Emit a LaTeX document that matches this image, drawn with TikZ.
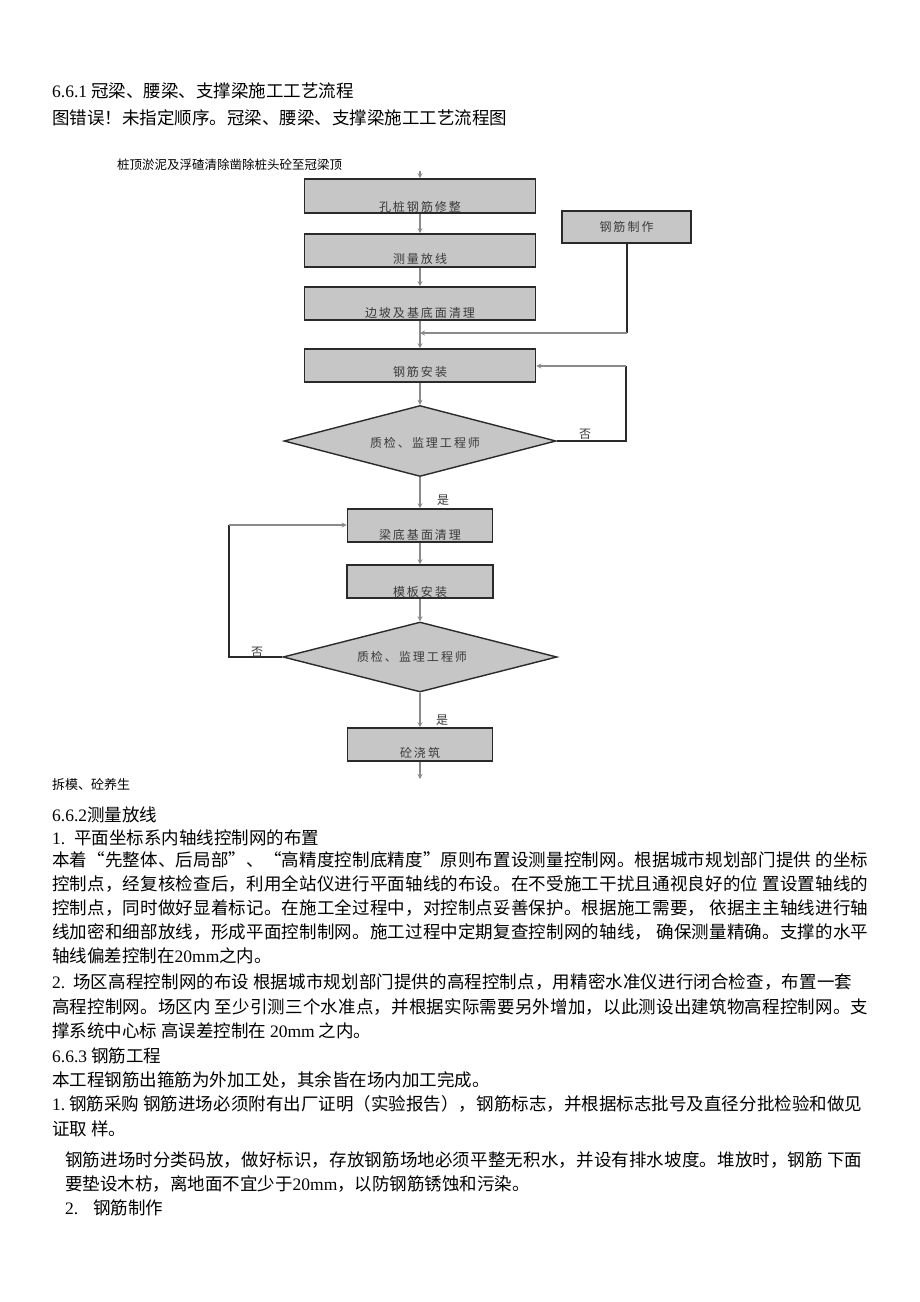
\documentclass[tikz,border=0pt]{standalone}
\usepackage{fontspec}
\setmainfont{Noto Sans CJK SC}
\newfontfamily\latfont{Liberation Serif}
\newcommand\lat[1]{{\latfont #1}}
\usetikzlibrary{shapes.geometric,arrows.meta}
\XeTeXinterchartokenstate=1
\newcount\mycc
\mycc="3000
\loop\ifnum\mycc<"A000 \XeTeXcharclass\mycc=7 \advance\mycc by 1 \repeat
\mycc="FF00
\loop\ifnum\mycc<"FFF0 \XeTeXcharclass\mycc=7 \advance\mycc by 1 \repeat
\XeTeXcharclass"201C=7 \XeTeXcharclass"201D=7
\newdimen\cjkgap \cjkgap=0pt
\XeTeXinterchartoks 7 7 = {\hskip\cjkgap plus 3pt\relax}
\newcommand\gaptext[1]{{\cjkgap=2pt\relax #1}}
\definecolor{boxfill}{HTML}{C6C6C6}
\definecolor{bordc}{HTML}{2A2A2A}
\definecolor{connc}{HTML}{8A8A8A}
\definecolor{lblc}{HTML}{3A3A3A}
\begin{document}
\begin{tikzpicture}[x=1pt,y=-1pt,
  bodytxt/.style={anchor=west,inner sep=0pt,font=\fontsize{17.5}{20}\selectfont},
  smalltxt/.style={anchor=west,inner sep=0pt,font=\fontsize{12.5}{15}\selectfont},
  procbox/.style={draw=bordc,line width=1.6pt,fill=boxfill,minimum width=231pt,minimum height=33pt,inner sep=0pt},
  narrowbox/.style={procbox,minimum width=145pt},
  decision/.style={diamond,aspect=3.8,draw=bordc,line width=1.4pt,fill=boxfill,minimum width=272pt,minimum height=71pt,inner sep=0pt},
  btxt/.style={inner sep=0pt,text=lblc,font=\fontsize{12}{14}\selectfont},
  yn/.style={inner sep=0pt,text=lblc,font=\fontsize{12}{14}\selectfont},
  conn/.style={draw=connc,line width=1.3pt,-{Stealth[length=5pt,width=5pt]}},
  blk/.style={draw=bordc,line width=2pt}]
\useasboundingbox[fill=white] (0,0) rectangle (920,1302);

% headings
\node[bodytxt] (h1) at (52,91) {\lat{6.6.1} 冠梁、腰梁、支撑梁施工工艺流程};
\node[bodytxt] (h2) at (52,118) {图错误！未指定顺序。冠梁、腰梁、支撑梁施工工艺流程图};
\node[smalltxt] (cap) at (117,165) {桩顶淤泥及浮碴清除凿除桩头砼至冠梁顶};

% flowchart
\node[procbox,minimum height=34pt,label={[btxt,yshift=-11pt]center:\gaptext{孔桩钢筋修整}}] (b1) at (420,196) {};
\node[procbox,label={[btxt,yshift=-8.5pt]center:\gaptext{测量放线}}] (b2) at (420,250.5) {};
\node[procbox,label={[btxt,yshift=-9.5pt]center:\gaptext{边坡及基底面清理}}] (b3) at (420,303.5) {};
\node[procbox,label={[btxt,yshift=-6.5pt]center:\gaptext{钢筋安装}}] (b4) at (420,365.5) {};
\node[procbox,minimum width=129pt,minimum height=32pt,label={[btxt]center:\gaptext{钢筋制作}}] (zz) at (626.5,227) {};
\node[decision,label={[btxt,xshift=5pt,yshift=-2pt]center:\gaptext{质检、监理工程师}}] (d1) at (420,441) {};
\node[narrowbox,label={[btxt,yshift=-9.5pt]center:\gaptext{梁底基面清理}}] (b5) at (420,525.5) {};
\node[narrowbox,minimum width=146pt,label={[btxt,yshift=-10.5pt]center:\gaptext{模板安装}}] (b6) at (420,581.5) {};
\node[decision,minimum width=274pt,minimum height=70pt,label={[btxt,xshift=-8pt]center:\gaptext{质检、监理工程师}}] (d2) at (420,657) {};
\node[narrowbox,label={[btxt,yshift=-8.5pt]center:\gaptext{砼浇筑}}] (b7) at (420,744.5) {};

\coordinate (tin) at (420,171);
\coordinate (tout) at (420,779);
\coordinate (zc) at (626.5,333);
\coordinate (r1) at (626,441);
\coordinate (r2) at (626,366);
\coordinate (l1) at (229,657);
\coordinate (l2) at (229,525);

\draw[conn] (tin) -- (b1.north);
\draw[conn] (b1.south) -- (b2.north);
\draw[conn] (b2.south) -- (b3.north);
\draw[conn] (b3.south) -- (b4.north);
\draw[blk] (zz.south) -- (zc);
\draw[conn] (zc) -- (zc -| b3.south);
\draw[conn] (b4.south) -- (d1.north);
\draw[conn] (d1.south) -- (b5.north);
\draw[blk] (d1.east) -- (r1) -- (r2);
\draw[conn] (r2) -- (r2 -| b4.east);
\draw[conn] (b5.south) -- (b6.north);
\draw[conn] (b6.south) -- (d2.north);
\draw[blk] (d2.west) -- (l1) -- (l2);
\draw[conn] (l2) -- (l2 -| b5.west);
\draw[conn] (d2.south) -- (b7.north);
\draw[conn] (b7.south) -- (tout);

\node[yn] (no1) at (585,434) {否};
\node[yn] (yes1) at (443,500) {是};
\node[yn] (no2) at (257,652) {否};
\node[yn] (yes2) at (442,720) {是};

% text below
\node[anchor=west,inner sep=0pt,font=\fontsize{13}{15}\selectfont] (t0) at (52,785) {拆模、砼养生};
\node[bodytxt] (t1) at (52,815) {\lat{6.6.2}测量放线};
\node[bodytxt] (t2) at (52,838) {\lat{1.}\hspace{9pt}平面坐标系内轴线控制网的布置};
\node[bodytxt] (t3) at (52,860) {\hbox to 816pt{本着“先整体、后局部”、“高精度控制底精度”原则布置设测量控制网。根据城市规划部门提供 的坐标}};
\node[bodytxt] (t4) at (52,884) {\hbox to 816pt{控制点，经复核检查后，利用全站仪进行平面轴线的布设。在不受施工干扰且通视良好的位 置设置轴线的}};
\node[bodytxt] (t5) at (52,908) {\hbox to 816pt{控制点，同时做好显着标记。在施工全过程中，对控制点妥善保护。根据施工需要， 依据主主轴线进行轴}};
\node[bodytxt] (t6) at (52,932) {\hbox to 816pt{线加密和细部放线，形成平面控制制网。施工过程中定期复查控制网的轴线， 确保测量精确。支撑的水平}};
\node[bodytxt] (t7) at (52,956) {轴线偏差控制在\lat{20mm}之内。};
\node[bodytxt] (t8) at (52,982) {\hbox to 800pt{\lat{2.}\hspace{8pt}场区高程控制网的布设 根据城市规划部门提供的高程控制点，用精密水准仪进行闭合检查，布置一套}};
\node[bodytxt] (t9) at (52,1007) {\hbox to 816pt{高程控制网。场区内 至少引测三个水准点，并根据实际需要另外增加，以此测设出建筑物高程控制网。支}};
\node[bodytxt] (t10) at (52,1031) {撑系统中心标 高误差控制在 \lat{20mm} 之内。};
\node[bodytxt] (t11) at (52,1056) {\lat{6.6.3} 钢筋工程};
\node[bodytxt] (t12) at (52,1080) {本工程钢筋出箍筋为外加工处，其余皆在场内加工完成。};
\node[bodytxt] (t13) at (52,1104) {\hbox to 810pt{\lat{1.}\hspace{4pt}钢筋采购 钢筋进场必须附有出厂证明（实验报告），钢筋标志，并根据标志批号及直径分批检验和做见}};
\node[bodytxt] (t14) at (52,1129) {证取 样。};
\node[bodytxt] (t15) at (65,1160) {\hbox to 797pt{钢筋进场时分类码放，做好标识，存放钢筋场地必须平整无积水，并设有排水坡度。堆放时，钢筋 下面}};
\node[bodytxt] (t16) at (65,1184) {要垫设木枋，离地面不宜少于\lat{20mm}，以防钢筋锈蚀和污染。};
\node[bodytxt] (t17) at (65,1208) {\lat{2.}\hspace{15pt}钢筋制作};
\end{tikzpicture}
\end{document}
